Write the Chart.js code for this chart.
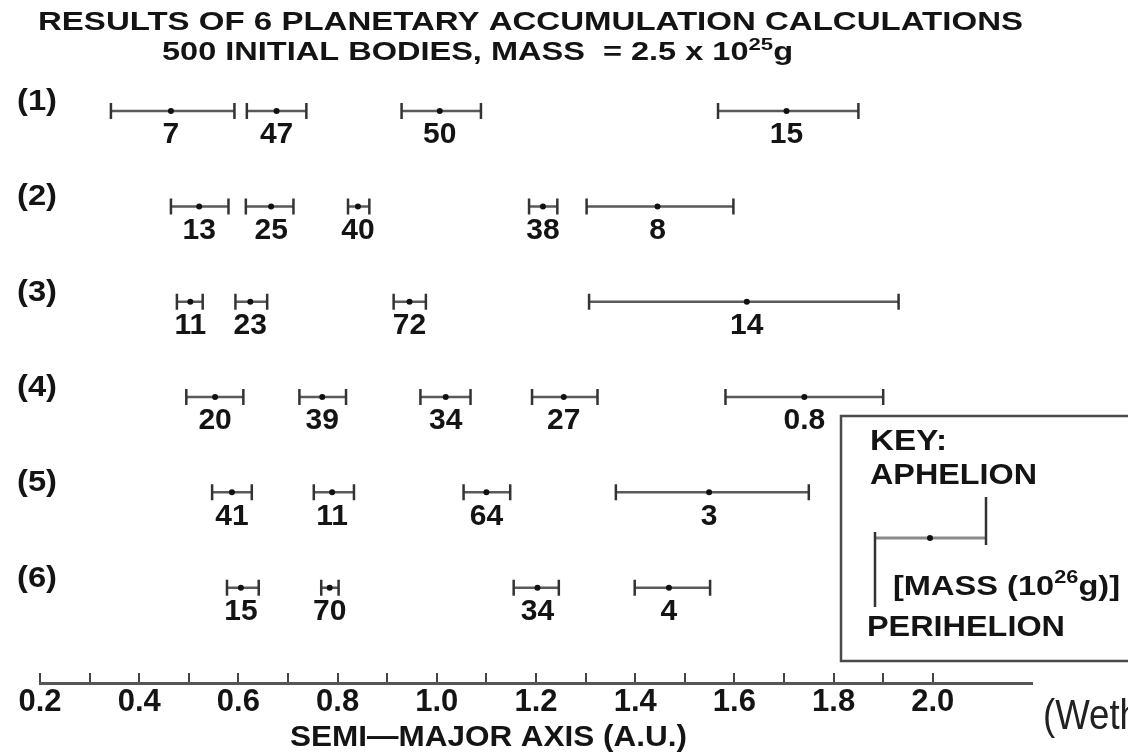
<!DOCTYPE html>
<html>
<head>
<meta charset="utf-8">
<script src="https://cdn.jsdelivr.net/npm/chart.js@4.4.1/dist/chart.umd.min.js"></script>
<style>
  html, body { margin: 0; padding: 0; background: #ffffff; }
  #wrap { position: relative; width: 1128px; height: 753px; }
</style>
</head>
<body>
<div id="wrap"><canvas id="chart"></canvas></div>
<script>
// ---------------- DATA ----------------
const runLabels  = ['(1)', '(2)', '(3)', '(4)', '(5)', '(6)'];
const runIndex   = [1, 1, 1, 1,  2, 2, 2, 2, 2,  3, 3, 3, 3,  4, 4, 4, 4, 4,  5, 5, 5, 5,  6, 6, 6, 6];
const perihelion = [0.343, 0.617, 0.929, 1.567,
                    0.464, 0.615, 0.821, 1.186, 1.302,
                    0.476, 0.594, 0.913, 1.307,
                    0.495, 0.723, 0.967, 1.192, 1.582,
                    0.547, 0.752, 1.054, 1.361,
                    0.577, 0.767, 1.155, 1.399];
const aphelion   = [0.592, 0.737, 1.089, 1.850,
                    0.580, 0.711, 0.864, 1.243, 1.598,
                    0.528, 0.658, 0.978, 1.931,
                    0.610, 0.817, 1.068, 1.324, 1.900,
                    0.627, 0.833, 1.148, 1.750,
                    0.641, 0.802, 1.246, 1.551];
const semiMajor  = [0.464, 0.677, 1.006, 1.705,
                    0.521, 0.666, 0.841, 1.214, 1.445,
                    0.503, 0.624, 0.945, 1.625,
                    0.553, 0.769, 1.018, 1.256, 1.741,
                    0.587, 0.789, 1.100, 1.549,
                    0.605, 0.784, 1.203, 1.468];
const massLabels = ['7', '47', '50', '15',
                    '13', '25', '40', '38', '8',
                    '11', '23', '72', '14',
                    '20', '39', '34', '27', '0.8',
                    '41', '11', '64', '3',
                    '15', '70', '34', '4'];
const tickValues = [0.2, 0.3, 0.4, 0.5, 0.6, 0.7, 0.8, 0.9, 1.0, 1.1, 1.2, 1.3, 1.4, 1.5, 1.6, 1.7, 1.8, 1.9, 2.0];
const xMin = 0.2, xMax = 2.2;
const titleLine1 = 'RESULTS OF 6 PLANETARY ACCUMULATION CALCULATIONS';
const axisTitle = 'SEMI\u2014MAJOR AXIS (A.U.)';

// ---------------- build datasets from the arrays ----------------
const segmentData = [];
const capData = [];
runIndex.forEach((r, i) => {
  segmentData.push({x: perihelion[i], y: r}, {x: aphelion[i], y: r}, {x: aphelion[i], y: null});
  capData.push({x: perihelion[i], y: r}, {x: aphelion[i], y: r});
});
const dotData = runIndex.map((r, i) => ({x: semiMajor[i], y: r}));

const FONT = '"Liberation Sans", Arial, Helvetica, sans-serif';
const INK = '#141414';

function drawText(ctx, s, x, y, size, opt) {
  opt = opt || {};
  ctx.save();
  ctx.font = (opt.weight || 'bold') + ' ' + size + 'px ' + (opt.family || FONT);
  ctx.fillStyle = opt.color || INK;
  ctx.textBaseline = 'middle';
  ctx.textAlign = 'left';
  const w = ctx.measureText(s).width;
  const sx = opt.width ? opt.width / w : 1;
  const left = opt.align === 'center' ? x - (w * sx) / 2 : x;
  ctx.translate(left, y);
  ctx.scale(sx, 1);
  ctx.fillText(s, 0, 0);
  ctx.restore();
}

// rich text: parts = [{t, size, dy}]
function drawRich(ctx, parts, x, y, targetWidth, opt) {
  opt = opt || {};
  ctx.save();
  ctx.fillStyle = opt.color || INK;
  ctx.textBaseline = 'alphabetic';
  ctx.textAlign = 'left';
  let total = 0;
  const widths = parts.map(p => {
    ctx.font = 'bold ' + p.size + 'px ' + FONT;
    const w = ctx.measureText(p.t).width;
    total += w;
    return w;
  });
  const sx = targetWidth ? targetWidth / total : 1;
  ctx.translate(x, y);
  ctx.scale(sx, 1);
  let cx = 0;
  parts.forEach((p, i) => {
    ctx.font = 'bold ' + p.size + 'px ' + FONT;
    ctx.fillText(p.t, cx, p.dy || 0);
    cx += widths[i];
  });
  ctx.restore();
}

const annotationPlugin = {
  id: 'annotations',
  afterDraw(chart) {
    const ctx = chart.ctx;
    const xs = chart.scales.x, ys = chart.scales.y;

    // titles
    drawText(ctx, titleLine1, 38, 23, 25, {width: 985});
    drawRich(ctx, [
      {t: '500 INITIAL BODIES, MASS  = 2.5 x 10', size: 25},
      {t: '25', size: 17, dy: -10},
      {t: 'g', size: 25}
    ], 162, 60, 631);

    // run labels
    runLabels.forEach((lab, k) => {
      drawText(ctx, lab, 17, ys.getPixelForValue(k + 1) - 9, 29, {width: 40});
    });

    // mass labels below each orbit bar
    massLabels.forEach((m, i) => {
      drawText(ctx, m, xs.getPixelForValue(semiMajor[i]), ys.getPixelForValue(runIndex[i]) + 24, 30, {align: 'center'});
    });

    // axis title
    drawText(ctx, axisTitle, 290, 738, 29, {width: 397});

    // key box
    ctx.save();
    ctx.strokeStyle = '#4a4a4a';
    ctx.lineWidth = 2.5;
    ctx.beginPath();
    ctx.moveTo(1135, 416);
    ctx.lineTo(841, 416);
    ctx.lineTo(841, 661);
    ctx.lineTo(1135, 661);
    ctx.stroke();
    // key sample
    ctx.strokeStyle = '#8a8a8a';
    ctx.lineWidth = 3;
    ctx.beginPath(); ctx.moveTo(875, 538); ctx.lineTo(986, 538); ctx.stroke();
    ctx.strokeStyle = '#333';
    ctx.lineWidth = 2.5;
    ctx.beginPath(); ctx.moveTo(986, 497); ctx.lineTo(986, 545); ctx.stroke();
    ctx.beginPath(); ctx.moveTo(875, 532); ctx.lineTo(875, 607); ctx.stroke();
    ctx.fillStyle = '#111';
    ctx.beginPath(); ctx.arc(930, 538, 3, 0, Math.PI * 2); ctx.fill();
    ctx.restore();
    drawText(ctx, 'KEY:', 870, 442, 29, {width: 77});
    drawText(ctx, 'APHELION', 870, 476, 29, {width: 167});
    drawRich(ctx, [
      {t: '[MASS (10', size: 27},
      {t: '26', size: 18, dy: -12},
      {t: 'g)]', size: 27}
    ], 893, 595, 227);
    drawText(ctx, 'PERIHELION', 867, 628, 29, {width: 198});

    // source note (cut off at the right edge, as in the reference)
    drawText(ctx, '(Wetherill)', 1043, 717, 42, {weight: 'normal', width: 166, color: '#222'});
  }
};

new Chart(document.getElementById('chart'), {
  type: 'scatter',
  data: {
    datasets: [
      {
        label: 'orbit range',
        data: segmentData,
        showLine: true,
        spanGaps: false,
        borderColor: '#5a5a5a',
        borderWidth: 2.5,
        pointRadius: 0,
        fill: false,
        order: 3
      },
      {
        label: 'perihelion / aphelion',
        data: capData,
        showLine: false,
        pointStyle: 'line',
        rotation: 90,
        pointRadius: 8,
        borderColor: '#333333',
        borderWidth: 2.5,
        order: 2
      },
      {
        label: 'semi-major axis',
        data: dotData,
        showLine: false,
        pointStyle: 'circle',
        pointRadius: 3,
        backgroundColor: '#111111',
        borderColor: '#111111',
        borderWidth: 0,
        order: 1
      }
    ]
  },
  options: {
    responsive: true,
    maintainAspectRatio: false,
    animation: false,
    events: [],
    layout: { padding: { left: 40, right: 96, top: 15.8, bottom: 0 } },
    plugins: {
      legend: { display: false },
      tooltip: { enabled: false },
      title: { display: false }
    },
    scales: {
      x: {
        type: 'linear',
        position: 'bottom',
        min: xMin,
        max: xMax,
        afterBuildTicks: (scale) => { scale.ticks = tickValues.map(v => ({value: v})); },
        afterFit: (scale) => { scale.height = 70; },
        ticks: {
          autoSkip: false,
          maxRotation: 0,
          padding: 11,
          color: INK,
          font: { family: FONT, size: 31, weight: 'bold' },
          callback: (value, index) => (index % 2 === 0 ? Number(tickValues[index]).toFixed(1) : '')
        },
        grid: {
          drawOnChartArea: false,
          drawTicks: true,
          tickLength: -10,
          color: '#444444',
          lineWidth: 2
        },
        border: { display: true, color: '#555555', width: 3 },
        title: { display: false }
      },
      y: {
        type: 'linear',
        display: false,
        reverse: true,
        min: 0,
        max: 7
      }
    }
  },
  plugins: [annotationPlugin]
});
</script>
</body>
</html>
